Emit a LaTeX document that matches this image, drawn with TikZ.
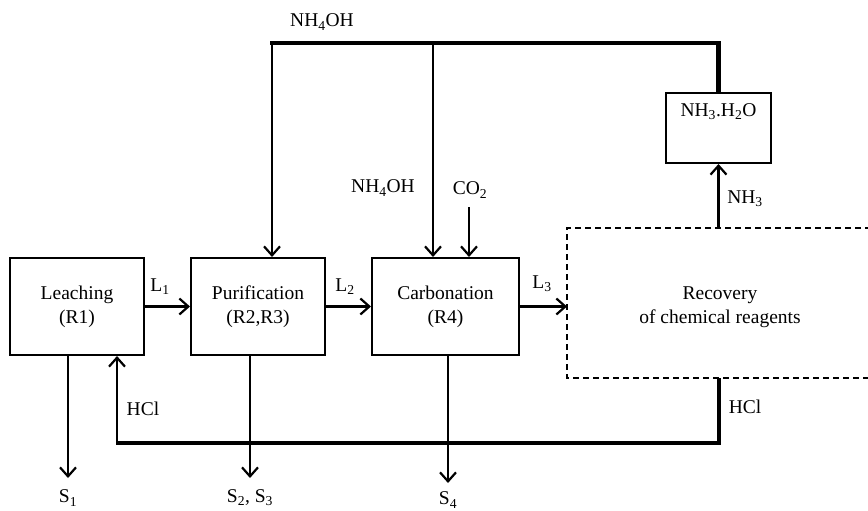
\documentclass[tikz,border=0pt]{standalone}
\usepackage{fontspec}
\setmainfont{Liberation Serif}
\usetikzlibrary{arrows.meta}
\begin{document}
\begin{tikzpicture}[x=1pt,y=-1pt,
  every node/.style={font=\fontsize{19.5}{24}\selectfont},
  box/.style={draw,line width=2pt,minimum width=134pt,minimum height=97pt,inner sep=0pt,align=center},
  thinline/.style={line width=2.2pt},
  thickline/.style={line width=4.5pt,line join=miter},
  dashline/.style={line width=1.3pt,dash pattern=on 6pt off 4pt},
  arr/.style={thinline,-{Straight Barb[length=9pt,width=16pt,line width=2.2pt]}},
  lbl/.style={inner sep=0pt}]
\clip (0,0) rectangle (868,511);
\fill[white] (0,0) rectangle (868,511);
% boxes
\node[box] (leach) at (77,306.5) {Leaching\\(R1)};
\node[box] (pur) at (258,306.5) {Purification\\(R2,R3)};
\node[box,minimum width=147pt] (carb) at (445.5,306.5) {Carbonation\\(R4)};
\node[box,draw=none,minimum width=302pt,minimum height=148pt] (rec) at (719,303) {};
\node[lbl,align=center] (rectxt) at (720,307) {Recovery\\of chemical reagents};
\draw[dashline] ([xshift=30pt]rec.north east) -- (rec.north west) -- (rec.south west) -- ([xshift=30pt]rec.south east);
\node[box,minimum width=105pt,minimum height=70pt] (nh) at (718.5,128) {};
\node[lbl] (nhtxt) at (718.5,112) {NH\textsubscript{3}.H\textsubscript{2}O};
% coordinates
\coordinate (j1) at (272,43);
\coordinate (j2) at (433,43);
\coordinate (j3) at (718.5,43);
\coordinate (co2s) at (469,207);
\coordinate (hclL) at (117,443);
\coordinate (hclR) at (719,443);
\coordinate (s1) at (68,478);
\coordinate (s2) at (250,478);
\coordinate (s4) at (448,483);
% top NH4OH line
\draw[thickline] ([xshift=-2pt]j1) -- (j3) -- (nh.north);
\draw[arr] (j1) -- (pur.north -| j1);
\draw[arr] (j2) -- (carb.north -| j2);
\draw[arr] (co2s) -- (carb.north -| co2s);
\draw[arr] (rec.north -| nh.south) -- (nh.south);
% main flow
\draw[arr] (leach.east) -- (pur.west);
\draw[arr] (pur.east) -- (carb.west);
\draw[arr] (carb.east) -- (rec.west |- carb.east);
% HCl recycle
\draw[thickline] ([xshift=-1pt]hclL) -- (hclR) -- (rec.south -| hclR);
\draw[arr] ([yshift=2pt]hclL) -- (leach.south -| hclL);
% solids
\draw[arr] (leach.south -| s1) -- (s1);
\draw[arr] (pur.south -| s2) -- (s2);
\draw[arr] (carb.south -| s4) -- (s4);
% labels
\node[lbl] (l1) at (160,287) {L\textsubscript{1}};
\node[lbl] (l2) at (345,287) {L\textsubscript{2}};
\node[lbl] (l3) at (542,284) {L\textsubscript{3}};
\node[lbl] (nh4a) at (322,22) {NH\textsubscript{4}OH};
\node[lbl] (nh4b) at (383,188) {NH\textsubscript{4}OH};
\node[lbl] (co2) at (470,190) {CO\textsubscript{2}};
\node[lbl] (nh3) at (745,199) {NH\textsubscript{3}};
\node[lbl] (hcl1) at (143,409) {HCl};
\node[lbl] (hcl2) at (745,407) {HCl};
\node[lbl] (s1l) at (68,498) {S\textsubscript{1}};
\node[lbl] (s2l) at (250,498) {S\textsubscript{2}, S\textsubscript{3}};
\node[lbl] (s4l) at (448,500) {S\textsubscript{4}};
\end{tikzpicture}
\end{document}
